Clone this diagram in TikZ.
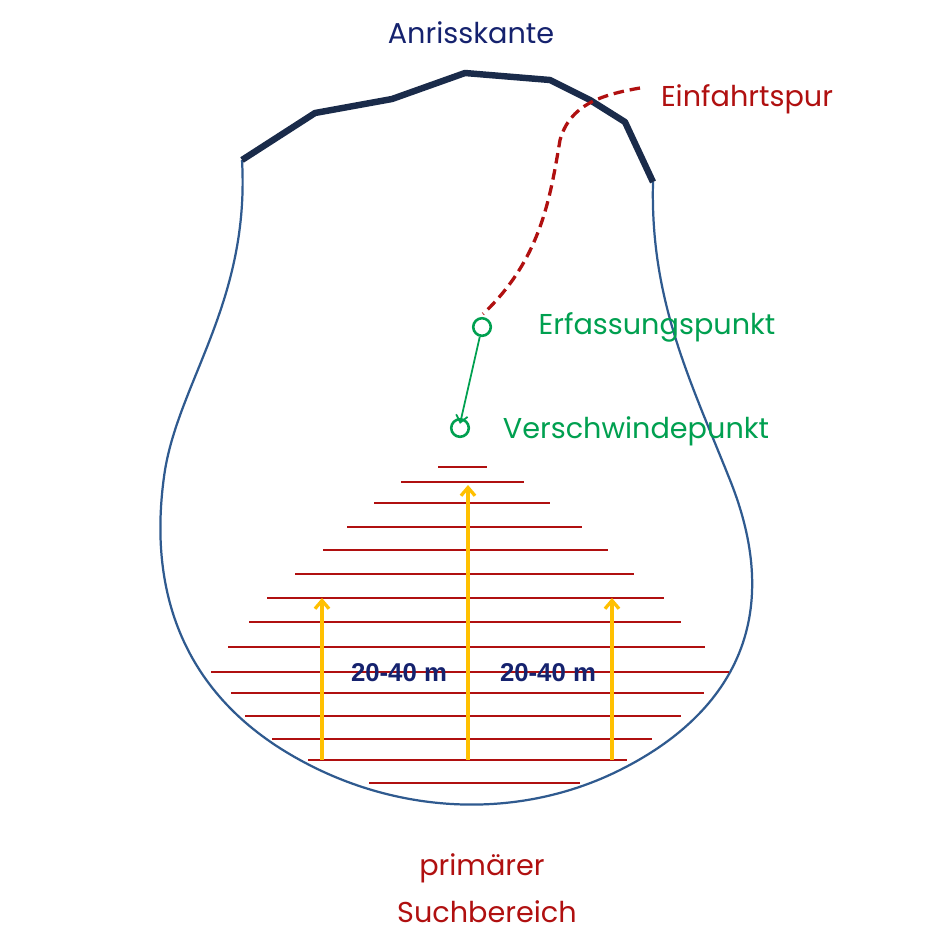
\documentclass[tikz,border=0pt]{standalone}
\usepackage{fontspec}
\setmainfont{Poppins}
\newfontfamily\distfont{Liberation Sans}
\definecolor{cblue}{HTML}{2F5A8F}
\definecolor{cdark}{HTML}{1A2B4A}
\definecolor{cred}{HTML}{B01010}
\definecolor{cgreen}{HTML}{00A050}
\definecolor{cyel}{HTML}{FFC000}
\begin{document}
\begin{tikzpicture}[x=0.03cm,y=-0.03cm,
 hatch/.style={draw=cred,line width=1.5pt},
 yarrow/.style={draw=cyel,line width=2.8pt,-{Straight Barb[length=7pt,width=12pt]}},
 lbl/.style={font=\fontsize{24.5}{28}\selectfont,inner sep=1pt},
 dist/.style={font=\distfont\bfseries\fontsize{22}{24}\selectfont,text=cdark!80!blue},
 ring/.style={circle,draw=cgreen,line width=2.2pt,minimum size=15pt,inner sep=0pt}]
\usetikzlibrary{arrows.meta}
\fill[white] (0,0) rectangle (940,940);
% outline
\draw[cblue,line width=1.9pt] (242,160) .. controls (250,300) and (180,380) .. (165,470)
 .. controls (145,600) and (190,700) .. (300,760)
 .. controls (400,815) and (520,820) .. (620,770)
 .. controls (720,720) and (790,630) .. (730,480)
 .. controls (690,380) and (650,300) .. (653,182);
\draw[cdark,line width=5.5pt,line join=round] (242,160)--(315,113)--(392,99)--(465,73)--(550,80)--(590,100)--(625,122)--(653,182);
% track
\draw[cred,line width=2.8pt,dash pattern=on 9pt off 5pt] (640,88) .. controls (600,95) and (570,105) .. (560,140)
 .. controls (550,200) and (540,260) .. (483,314);
\node[ring] (e) at (482,327) {};
\node[ring] (v) at (460,428) {};
\draw[cgreen,line width=1.5pt,-{Straight Barb[length=6pt,width=10pt]}] (e) -- ([yshift=-5pt]v.north);
% hatching
\foreach \y/\a/\b in {467/438/487,482/401/524,503/374/550,527/347/582,550/323/608,574/295/634,598/267/664,622/249/681,647/228/705,672/211/729,693/231/704,716/245/681,739/272/652,760/308/627,783/369/580}
 \draw[hatch] (\a,\y)--(\b,\y);
\coordinate (m0) at (468,760); \coordinate (m1) at (468,485);
\coordinate (l0) at (322,760); \coordinate (l1) at (322,598);
\coordinate (r0) at (612,760); \coordinate (r1) at (612,598);
\draw[yarrow] (m0)--(m1);
\draw[yarrow] (l0)--(l1);
\draw[yarrow] (r0)--(r1);
\node[dist] (d1) at (399,673) {20-40 m};
\node[dist] (d2) at (548,673) {20-40 m};
% labels
\node[lbl,text=cdark!80!blue] (t1) at (471,33) {Anrisskante};
\node[lbl,text=cred] (t2) at (747,99) {Einfahrtspur};
\node[lbl,text=cgreen] (t3) at (657,327) {Erfassungspunkt};
\node[lbl,text=cgreen] (t4) at (636,431) {Verschwindepunkt};
\node[lbl,text=cred] (t5) at (482,868) {primärer};
\node[lbl,text=cred] (t6) at (487,912) {Suchbereich};
\end{tikzpicture}
\end{document}
